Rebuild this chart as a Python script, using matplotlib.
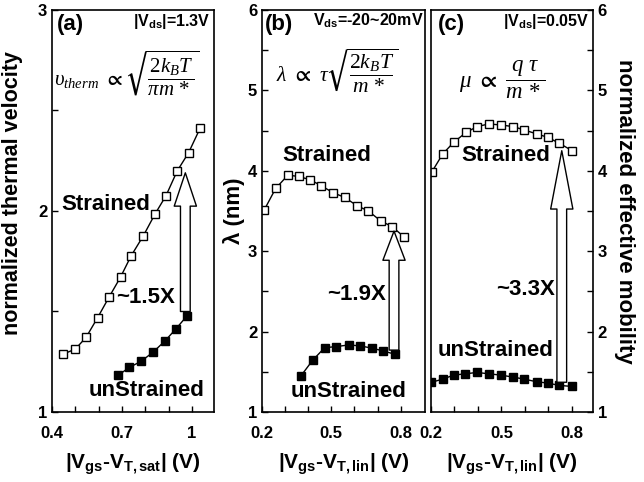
import matplotlib
matplotlib.use('Agg')
import matplotlib.pyplot as plt
from matplotlib.patches import FancyArrowPatch

plt.rcParams['font.family'] = 'Liberation Sans'
plt.rcParams['font.weight'] = 'bold'
plt.rcParams['axes.labelweight'] = 'bold'
plt.rcParams['mathtext.fontset'] = 'custom'
plt.rcParams['mathtext.rm'] = 'Liberation Serif:weight=normal'
plt.rcParams['mathtext.it'] = 'Liberation Serif:style=italic:weight=normal'
plt.rcParams['mathtext.bf'] = 'Liberation Sans:weight=bold'
plt.rcParams['mathtext.fallback'] = 'stix'

# (a) normalized thermal velocity vs |Vgs-VT,sat|
xa_str = [0.448, 0.500, 0.546, 0.596, 0.644, 0.694, 0.739, 0.792, 0.841, 0.889, 0.937, 0.986, 1.035]
ya_str = [1.288, 1.313, 1.371, 1.470, 1.570, 1.671, 1.776, 1.877, 1.983, 2.076, 2.199, 2.290, 2.411]
xa_uns = [0.683, 0.732, 0.782, 0.834, 0.885, 0.932, 0.979]
ya_uns = [1.182, 1.222, 1.252, 1.298, 1.354, 1.414, 1.478]

# (b) mean free path lambda (nm) vs |Vgs-VT,lin|
xb_str = [0.210, 0.259, 0.312, 0.358, 0.409, 0.457, 0.506, 0.558, 0.612, 0.659, 0.713, 0.764, 0.814]
yb_str = [3.515, 3.780, 3.946, 3.930, 3.888, 3.813, 3.730, 3.668, 3.564, 3.502, 3.378, 3.303, 3.178]
xb_uns = [0.368, 0.419, 0.471, 0.520, 0.575, 0.626, 0.677, 0.725, 0.775]
yb_uns = [1.448, 1.643, 1.800, 1.813, 1.834, 1.822, 1.793, 1.759, 1.718]

# (c) normalized effective mobility vs |Vgs-VT,lin|
xc_str = [0.203, 0.250, 0.297, 0.350, 0.397, 0.446, 0.497, 0.550, 0.597, 0.650, 0.697, 0.746, 0.800]
yc_str = [3.983, 4.210, 4.355, 4.479, 4.550, 4.583, 4.570, 4.550, 4.508, 4.459, 4.417, 4.343, 4.252]
xc_uns = [0.200, 0.250, 0.297, 0.346, 0.396, 0.446, 0.497, 0.550, 0.597, 0.650, 0.697, 0.746, 0.800]
yc_uns = [1.368, 1.409, 1.459, 1.475, 1.492, 1.475, 1.459, 1.434, 1.409, 1.376, 1.360, 1.331, 1.318]

# enhancement arrows: x, y start, y end, head length (pt)
arrows = [(0.972, 1.50, 2.19, 24), (0.771, 1.77, 3.25, 21), (0.757, 1.37, 4.25, 42)]
ratio_labels = ['~1.5X', '~1.9X', '~3.3X']

fig = plt.figure(figsize=(6.44, 4.82), dpi=100)
W, H = 644, 482
ax_a = fig.add_axes([52 / W, 70 / H, 162 / W, 402 / H])
ax_b = fig.add_axes([262 / W, 70 / H, 163 / W, 402 / H])
ax_c = fig.add_axes([431 / W, 70 / H, 162 / W, 402 / H])

mk = dict(marker='s', ms=6.3, mec='black', mew=1.0, color='black', lw=1.0)
for ax, xs, ys, xu, yu in [(ax_a, xa_str, ya_str, xa_uns, ya_uns),
                           (ax_b, xb_str, yb_str, xb_uns, yb_uns),
                           (ax_c, xc_str, yc_str, xc_uns, yc_uns)]:
    ax.plot(xs, ys, mfc='white', **mk)
    ax.plot(xu, yu, mfc='black', **mk)
    for s in ax.spines.values():
        s.set_linewidth(1.2)
    ax.tick_params(which='both', direction='in', length=4, width=1, labelsize=12)
    ax.tick_params(axis='x', pad=10)

for ax, (x, y0, y1, hl), lab in zip([ax_a, ax_b, ax_c], arrows, ratio_labels):
    arr = FancyArrowPatch((x, y0), (x, y1), shrinkA=0, shrinkB=0, mutation_scale=1,
                          arrowstyle=f'simple,head_length={hl},head_width=16,tail_width=7',
                          fc='white', ec='black', lw=1.0, zorder=3)
    ax.add_patch(arr)

# panel (a)
ax_a.set_xlim(0.4, 1.095)
ax_a.set_ylim(1, 3)
ax_a.set_xticks([0.4, 0.7, 1.0], ['0.4', '0.7', '1'])
ax_a.set_xticks([0.5, 0.6, 0.8, 0.9], minor=True)
ax_a.set_yticks([1, 2, 3])
ax_a.set_yticks([1.5, 2.5], minor=True)
ax_a.set_ylabel('normalized thermal velocity', fontsize=15.5)
ax_a.yaxis.set_label_coords(-0.18, 0.545)
ax_a.set_xlabel(r'|V$_{\mathbf{gs}}$-V$_{\mathbf{T,sat}}$| (V)', fontsize=15, labelpad=8)
ax_a.text(0.44, 2.03, 'Strained', fontsize=16, va='center')
ax_a.text(0.676, 1.57, '~1.5X', fontsize=16, va='center')
ax_a.text(0.556, 1.106, 'unStrained', fontsize=16, va='center')
ax_a.text(0.03, 0.965, '(a)', fontsize=16, transform=ax_a.transAxes, va='center')
ax_a.text(0.975, 0.972, r'|V$_{\mathbf{ds}}$|=1.3V', fontsize=11.5, transform=ax_a.transAxes,
          ha='right', va='center')
ax_a.text(0.46, 0.843, r'$\upsilon_{therm}\ \propto\sqrt{\dfrac{2k_BT}{\pi m\,*}}$', fontsize=15,
          transform=ax_a.transAxes, ha='center', va='center')

# panel (b)
ax_b.set_xlim(0.2, 0.905)
ax_b.set_ylim(1, 6)
ax_b.set_xticks([0.2, 0.5, 0.8], ['0.2', '0.5', '0.8'])
ax_b.set_xticks([0.3, 0.4, 0.6, 0.7], minor=True)
ax_b.set_yticks([1, 2, 3, 4, 5, 6])
ax_b.set_yticks([1.5, 2.5, 3.5, 4.5, 5.5], minor=True)
ax_b.set_ylabel('λ (nm)', fontsize=16, labelpad=2)
ax_b.set_xlabel(r'|V$_{\mathbf{gs}}$-V$_{\mathbf{T,lin}}$| (V)', fontsize=15, labelpad=8)
ax_b.text(0.286, 4.187, 'Strained', fontsize=16, va='center')
ax_b.text(0.481, 2.456, '~1.9X', fontsize=16, va='center')
ax_b.text(0.322, 1.253, 'unStrained', fontsize=16, va='center')
ax_b.text(0.02, 0.965, '(b)', fontsize=16, transform=ax_b.transAxes, va='center')
ax_b.text(0.99, 0.972, r'V$_{\mathbf{ds}}$=-20~20mV', fontsize=11.5, transform=ax_b.transAxes,
          ha='right', va='center')
ax_b.text(0.46, 0.85, r'$\lambda\ \propto\ \tau\sqrt{\dfrac{2k_BT}{m\,*}}$', fontsize=15.5,
          transform=ax_b.transAxes, ha='center', va='center')

# panel (c)
ax_c.set_xlim(0.2, 0.89)
ax_c.set_ylim(1, 6)
ax_c.set_xticks([0.2, 0.5, 0.8], ['0.2', '0.5', '0.8'])
ax_c.set_xticks([0.3, 0.4, 0.6, 0.7], minor=True)
ax_c.set_yticks([1, 2, 3, 4, 5, 6])
ax_c.set_yticks([1.5, 2.5, 3.5, 4.5, 5.5], minor=True)
ax_c.yaxis.tick_right()
ax_c.yaxis.set_label_position('right')
ax_c.set_ylabel('normalized effective mobility', fontsize=16, rotation=270, labelpad=20)
ax_c.set_xlabel(r'|V$_{\mathbf{gs}}$-V$_{\mathbf{T,lin}}$| (V)', fontsize=15, labelpad=8)
ax_c.text(0.329, 4.19, 'Strained', fontsize=16, va='center')
ax_c.text(0.479, 2.525, '~3.3X', fontsize=16, va='center')
ax_c.text(0.229, 1.76, 'unStrained', fontsize=16, va='center')
ax_c.text(0.04, 0.965, '(c)', fontsize=16, transform=ax_c.transAxes, va='center')
ax_c.text(0.975, 0.972, r'|V$_{\mathbf{ds}}$|=0.05V', fontsize=11.5, transform=ax_c.transAxes,
          ha='right', va='center')
ax_c.text(0.44, 0.825, r'$\mu\ \propto\ \dfrac{q\ \tau}{m\,*}$', fontsize=16.5,
          transform=ax_c.transAxes, ha='center', va='center')

fig.savefig('out.png', dpi=100)
